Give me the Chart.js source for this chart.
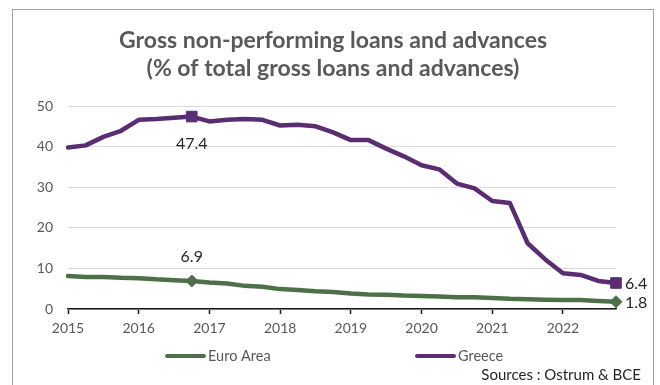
<!DOCTYPE html>
<html>
<head>
<meta charset="utf-8">
<script src="https://cdn.jsdelivr.net/npm/chart.js@4/dist/chart.umd.min.js"></script>
<style>
  html, body { margin: 0; padding: 0; background: #fff; }
  #wrap { width: 660px; height: 385px; position: relative; }
</style>
</head>
<body>
<div id="wrap"><canvas id="c" width="660" height="385"></canvas></div>
<script>
// Quarterly observations, 2015 Q1 to 2022 Q4
const quarters = [
  '2015Q1','2015Q2','2015Q3','2015Q4','2016Q1','2016Q2','2016Q3','2016Q4',
  '2017Q1','2017Q2','2017Q3','2017Q4','2018Q1','2018Q2','2018Q3','2018Q4',
  '2019Q1','2019Q2','2019Q3','2019Q4','2020Q1','2020Q2','2020Q3','2020Q4',
  '2021Q1','2021Q2','2021Q3','2021Q4','2022Q1','2022Q2','2022Q3','2022Q4'
];
const yearTicks = ['2015','2016','2017','2018','2019','2020','2021','2022'];

// Gross NPL ratio, % of total gross loans and advances
const euroArea = [
  8.1, 7.9, 7.9, 7.7, 7.6, 7.3, 7.1, 6.9,
  6.5, 6.3, 5.7, 5.5, 4.9, 4.7, 4.4, 4.2,
  3.8, 3.6, 3.5, 3.3, 3.2, 3.1, 2.9, 2.9,
  2.7, 2.5, 2.4, 2.3, 2.2, 2.2, 2.0, 1.8
];
const greece = [
  39.8, 40.3, 42.4, 43.9, 46.6, 46.8, 47.1, 47.4,
  46.2, 46.6, 46.8, 46.6, 45.2, 45.4, 45.0, 43.5,
  41.6, 41.6, 39.5, 37.6, 35.4, 34.4, 30.9, 29.7,
  26.6, 26.1, 16.2, 12.2, 8.8, 8.4, 6.9, 6.4
];
const yTicks = [0, 10, 20, 30, 40, 50];

const titleLines = ['Gross non-performing loans and advances', '(% of total gross loans and advances)'];
const sourceText = 'Sources : Ostrum & BCE';

const EURO = '#4d7049';
const GREECE = '#5a2d73';
const FONT = 'Lato, "Open Sans", sans-serif';
const markedIdx = [7, quarters.length - 1];

function radii(r) { return quarters.map((_, i) => markedIdx.includes(i) ? r : 0); }

const decor = {
  id: 'decor',
  beforeDraw(chart) {
    const ctx = chart.ctx;
    ctx.save();
    ctx.fillStyle = '#fff';
    ctx.fillRect(0, 0, chart.width, chart.height);
    ctx.strokeStyle = '#a0a0a0';
    ctx.lineWidth = 1;
    ctx.strokeRect(12.5, 9.5, 641, 390);
    ctx.restore();
  },
  afterDraw(chart) {
    const ctx = chart.ctx;
    ctx.save();
    // title
    ctx.fillStyle = '#595959';
    ctx.font = 'bold 23px ' + FONT;
    ctx.textAlign = 'center';
    ctx.textBaseline = 'middle';
    ctx.fillText(titleLines[0], 333, 41);
    ctx.fillText(titleLines[1], 333, 69);

    // legend
    const items = [
      { ds: chart.data.datasets[0], x0: 167, x1: 204 },
      { ds: chart.data.datasets[1], x0: 417, x1: 454 }
    ];
    const ly = 356;
    items.forEach(it => {
      ctx.strokeStyle = it.ds.borderColor;
      ctx.lineWidth = 4;
      ctx.lineCap = 'round';
      ctx.beginPath();
      ctx.moveTo(it.x0, ly);
      ctx.lineTo(it.x1, ly);
      ctx.stroke();
      ctx.fillStyle = '#595959';
      ctx.font = '14.5px ' + FONT;
      ctx.textAlign = 'left';
      ctx.fillText(it.ds.label, it.x1 + 4, ly);
    });

    // source
    ctx.fillStyle = '#262626';
    ctx.font = '15px ' + FONT;
    ctx.textAlign = 'right';
    ctx.fillText(sourceText, 641, 375);

    // value labels on marked points
    ctx.font = '16px ' + FONT;
    ctx.fillStyle = '#262626';
    chart.data.datasets.forEach((ds, di) => {
      const meta = chart.getDatasetMeta(di);
      markedIdx.forEach(i => {
        const pt = meta.data[i];
        const txt = ds.data[i].toFixed(1);
        if (i === quarters.length - 1) {
          ctx.textAlign = 'left';
          ctx.fillText(txt, pt.x + 9, pt.y + 1);
        } else {
          ctx.textAlign = 'center';
          ctx.fillText(txt, pt.x, pt.y + (di === 1 ? 27 : -24));
        }
      });
    });
    ctx.restore();
  }
};

new Chart(document.getElementById('c'), {
  type: 'line',
  data: {
    labels: quarters,
    datasets: [
      {
        label: 'Euro Area',
        data: euroArea,
        borderColor: EURO,
        backgroundColor: EURO,
        borderWidth: 4.5,
        borderJoinStyle: 'round',
        borderCapStyle: 'round',
        tension: 0,
        pointStyle: 'rectRot',
        pointRadius: radii(6),
        pointBorderWidth: 1,
        pointBorderColor: EURO,
        pointBackgroundColor: EURO,
        clip: false
      },
      {
        label: 'Greece',
        data: greece,
        borderColor: GREECE,
        backgroundColor: GREECE,
        borderWidth: 4.5,
        borderJoinStyle: 'round',
        borderCapStyle: 'round',
        tension: 0,
        pointStyle: 'rect',
        pointRadius: radii(7.5),
        pointBorderWidth: 1,
        pointBorderColor: GREECE,
        pointBackgroundColor: GREECE,
        clip: false
      }
    ]
  },
  options: {
    responsive: false,
    animation: false,
    devicePixelRatio: 1,
    layout: { padding: { top: 106, right: 44, left: 0, bottom: 0 } },
    plugins: {
      legend: { display: false },
      title: { display: false },
      tooltip: { enabled: false }
    },
    scales: {
      x: {
        type: 'category',
        offset: false,
        afterFit(scale) { scale.height = 76; },
        afterBuildTicks(scale) {
          scale.ticks = scale.ticks.filter(t => t.value % 4 === 0);
        },
        grid: {
          display: true,
          drawOnChartArea: false,
          drawTicks: true,
          tickLength: 5,
          tickColor: '#1a1a1a',
          tickWidth: 1.5
        },
        border: { display: true, color: '#1a1a1a', width: 1.5 },
        ticks: {
          autoSkip: false,
          maxRotation: 0,
          padding: 6,
          color: '#595959',
          font: { family: FONT, size: 14 },
          callback(value) { return yearTicks[value / 4]; }
        }
      },
      y: {
        min: yTicks[0],
        max: yTicks[yTicks.length - 1],
        afterFit(scale) { scale.width = 68; },
        afterBuildTicks(scale) { scale.ticks = yTicks.map(v => ({ value: v })); },
        grid: { color: '#d9d9d9', lineWidth: 1, drawTicks: false },
        border: { display: false },
        ticks: {
          padding: 15,
          color: '#595959',
          font: { family: FONT, size: 14 }
        }
      }
    }
  },
  plugins: [decor]
});
</script>
</body>
</html>
